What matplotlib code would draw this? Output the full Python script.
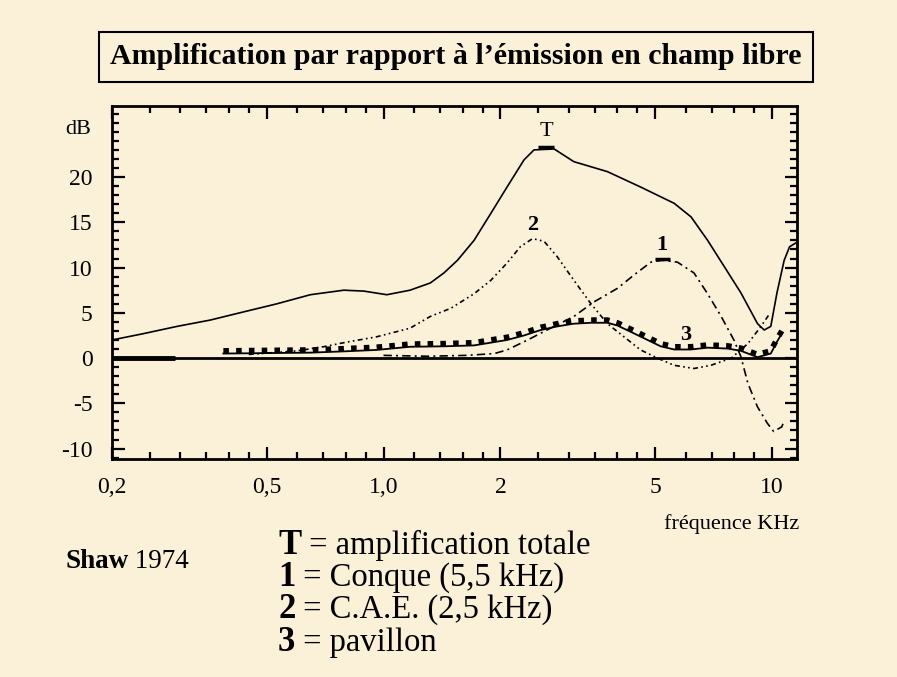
import numpy as np
import matplotlib
matplotlib.use("Agg")
import matplotlib.pyplot as plt
from matplotlib.ticker import FixedLocator, FixedFormatter, NullFormatter

# ---- data (frequency in kHz, gain in dB) ----
t_freq = [0.2, 0.241, 0.294, 0.358, 0.436, 0.532, 0.648, 0.79, 0.89, 1.02, 1.17, 1.32, 1.43,
          1.55, 1.71, 1.89, 2.08, 2.30, 2.44, 2.75, 3.09, 3.77, 4.59, 5.60, 6.19, 6.83, 7.54,
          8.32, 9.18, 9.55, 9.93, 10.3, 10.75, 11.1, 11.5]
t_db = [2.0, 2.7, 3.5, 4.2, 5.1, 6.0, 7.0, 7.5, 7.4, 7.0, 7.5, 8.3, 9.4,
        10.8, 13.0, 16.0, 18.9, 21.9, 23.0, 23.1, 21.7, 20.6, 18.9, 17.1, 15.6, 13.0, 10.1,
        7.2, 3.8, 3.1, 3.5, 7.2, 10.8, 12.3, 12.7]

c2_freq = [0.45, 0.60, 0.70, 0.79, 0.96, 1.17, 1.32, 1.49, 1.71, 1.89, 2.08, 2.25, 2.42, 2.59,
           2.80, 3.09, 3.42, 3.77, 4.16, 4.59, 5.07, 5.60, 6.30, 6.96, 7.86, 8.67, 9.37, 9.9]
c2_db = [0.4, 0.8, 1.25, 1.7, 2.35, 3.3, 4.6, 5.5, 7.1, 8.6, 10.5, 12.3, 13.2, 12.9,
         11.2, 8.6, 6.0, 3.8, 2.35, 0.9, 0.0, -0.8, -1.15, -0.8, 0.0, 1.6, 3.5, 5.0]

c1_freq = [1.0, 1.3, 1.64, 1.93, 2.08, 2.35, 2.69, 3.09, 3.48, 4.00, 4.42, 4.88, 5.22, 5.71,
           6.30, 6.83, 7.40, 7.98, 8.32, 8.67, 9.18, 9.73, 10.1, 10.6, 10.75]
c1_db = [0.3, 0.2, 0.3, 0.5, 0.9, 2.0, 3.3, 4.6, 6.2, 7.7, 9.2, 10.6, 10.8, 10.6,
         9.4, 7.1, 4.6, 2.0, 0.15, -2.8, -5.4, -7.2, -8.1, -7.6, -6.9]

c3_freq = [0.387, 0.50, 0.648, 0.80, 0.96, 1.17, 1.43, 1.71, 2.08, 2.30, 2.54, 2.80, 3.09, 3.42,
           3.77, 4.0, 4.33, 4.68, 5.17, 5.60, 6.19, 6.83, 7.69, 8.32, 9.18, 9.93, 10.3, 10.6]
c3_db = [0.5, 0.55, 0.6, 0.75, 0.9, 1.25, 1.3, 1.4, 2.0, 2.5, 3.1, 3.5, 3.8, 3.9,
         3.9, 3.6, 2.9, 2.2, 1.3, 0.95, 0.95, 1.15, 1.05, 0.8, 0.1, 0.5, 1.8, 2.7]

base_freq = [0.2, 0.29]
base_db = [0.0, 0.0]

x_major = [0.2, 0.5, 1.0, 2, 5, 10]
x_labels = ["0,2", "0,5", "1,0", "2", "5", "10"]
x_minor = [0.25, 0.3, 0.35, 0.4, 0.45, 0.6, 0.7, 0.8, 0.9, 1.2, 1.4, 1.6, 1.8,
           2.5, 3, 3.5, 4, 4.5, 6, 7, 8, 9]
y_major = [-10, -5, 0, 5, 10, 15, 20]

legend_lines = [("T", " = amplification totale"), ("1", " = Conque (5,5 kHz)"),
                ("2", " = C.A.E. (2,5 kHz)"), ("3", " = pavillon")]
title = "Amplification par rapport à l\u2019émission en champ libre"

# ---- style ----
BG = "#fbf0d8"
plt.rcParams['font.family'] = ['Liberation Serif', 'DejaVu Serif']

fig = plt.figure(figsize=(8.97, 6.77), dpi=100, facecolor=BG)
ax = fig.add_axes([112/897, 1-459/677, (797-112)/897, (459-106)/677], facecolor=BG)
ax.set_xscale('log')
ax.set_xlim(0.2, 11.6)
ax.set_ylim(-11.15, 27.85)

ax.axhline(0, color='black', lw=2.0, zorder=2)
ax.plot(base_freq, base_db, color='black', lw=3.5, solid_capstyle='butt', zorder=3)

ax.plot(t_freq, t_db, color='black', lw=1.2, zorder=4)
ax.plot(c2_freq, c2_db, color='black', lw=1.2, dashes=(3, 2, 1, 2, 1, 2), zorder=4)
ax.plot(c1_freq, c1_db, color='black', lw=1.2, dashes=(5, 2.5, 1.2, 2.5), zorder=4)
ax.plot(c3_freq, c3_db, color='black', lw=1.3, zorder=4)
ax.plot(c3_freq, [v + 0.3 for v in c3_db], color='black', lw=4.0, dashes=(1.0, 1.3), zorder=4)

# curve labels
ax.text(2.62, 24.0, "T", fontsize=16, ha='center', va='bottom')
ax.plot([2.5, 2.75], [23.3, 23.3], color='black', lw=2.5, solid_capstyle='butt', zorder=4)
ax.text(2.42, 13.6, "2", fontsize=16, ha='center', va='bottom', fontweight='bold')
ax.text(5.22, 11.4, "1", fontsize=16, ha='center', va='bottom', fontweight='bold')
ax.plot([5.0, 5.45], [11.0, 11.0], color='black', lw=2.5, solid_capstyle='butt', zorder=4)
ax.text(6.0, 1.4, "3", fontsize=16, ha='center', va='bottom', fontweight='bold')

ax.xaxis.set_major_locator(FixedLocator(x_major))
ax.xaxis.set_major_formatter(FixedFormatter(x_labels))
ax.xaxis.set_minor_locator(FixedLocator(x_minor))
ax.xaxis.set_minor_formatter(NullFormatter())
ax.set_yticks(y_major)
ax.set_yticklabels([str(v) for v in y_major])
ax.yaxis.set_minor_locator(FixedLocator(np.arange(-11, 28, 1)))

ax.tick_params(which='both', direction='in', top=True, right=True, width=1.6, colors='black')
ax.tick_params(which='major', length=9, labelsize=17)
ax.tick_params(which='minor', length=5)
ax.tick_params(axis='x', which='major', pad=13)
ax.tick_params(axis='y', which='major', pad=14)
for s in ax.spines.values():
    s.set_linewidth(2.0)

fig.text(65/897, 1-130/677, "dB", fontsize=16, ha='left', va='center')
fig.text(732/897, 1-524/677, "fréquence KHz", fontsize=16, ha='center', va='center')

fig.text(456/897, 1-57/677, title, fontsize=21.5, fontweight='bold', ha='center', va='center',
         bbox=dict(boxstyle='square,pad=0.38', facecolor=BG, edgecolor='black', lw=1.5))

fig.canvas.draw()
s1 = fig.text(65/897, 1-562/677, "Shaw", fontsize=19.5, fontweight='bold', ha='left', va='center')
fig.canvas.draw()
b = s1.get_window_extent()
fig.text(b.x1/897, 1-562/677, " 1974", fontsize=19.5, ha='left', va='center')

y0 = 545
for i, (k, rest) in enumerate(legend_lines):
    yy = 1 - (y0 + i*32.5)/677
    t1 = fig.text(278/897, yy, k, fontsize=25, fontweight='bold', ha='left', va='center')
    fig.canvas.draw()
    bb = t1.get_window_extent()
    fig.text(bb.x1/897, yy, rest, fontsize=23.5, ha='left', va='center')

fig.savefig("out.png", dpi=100, facecolor=BG)
